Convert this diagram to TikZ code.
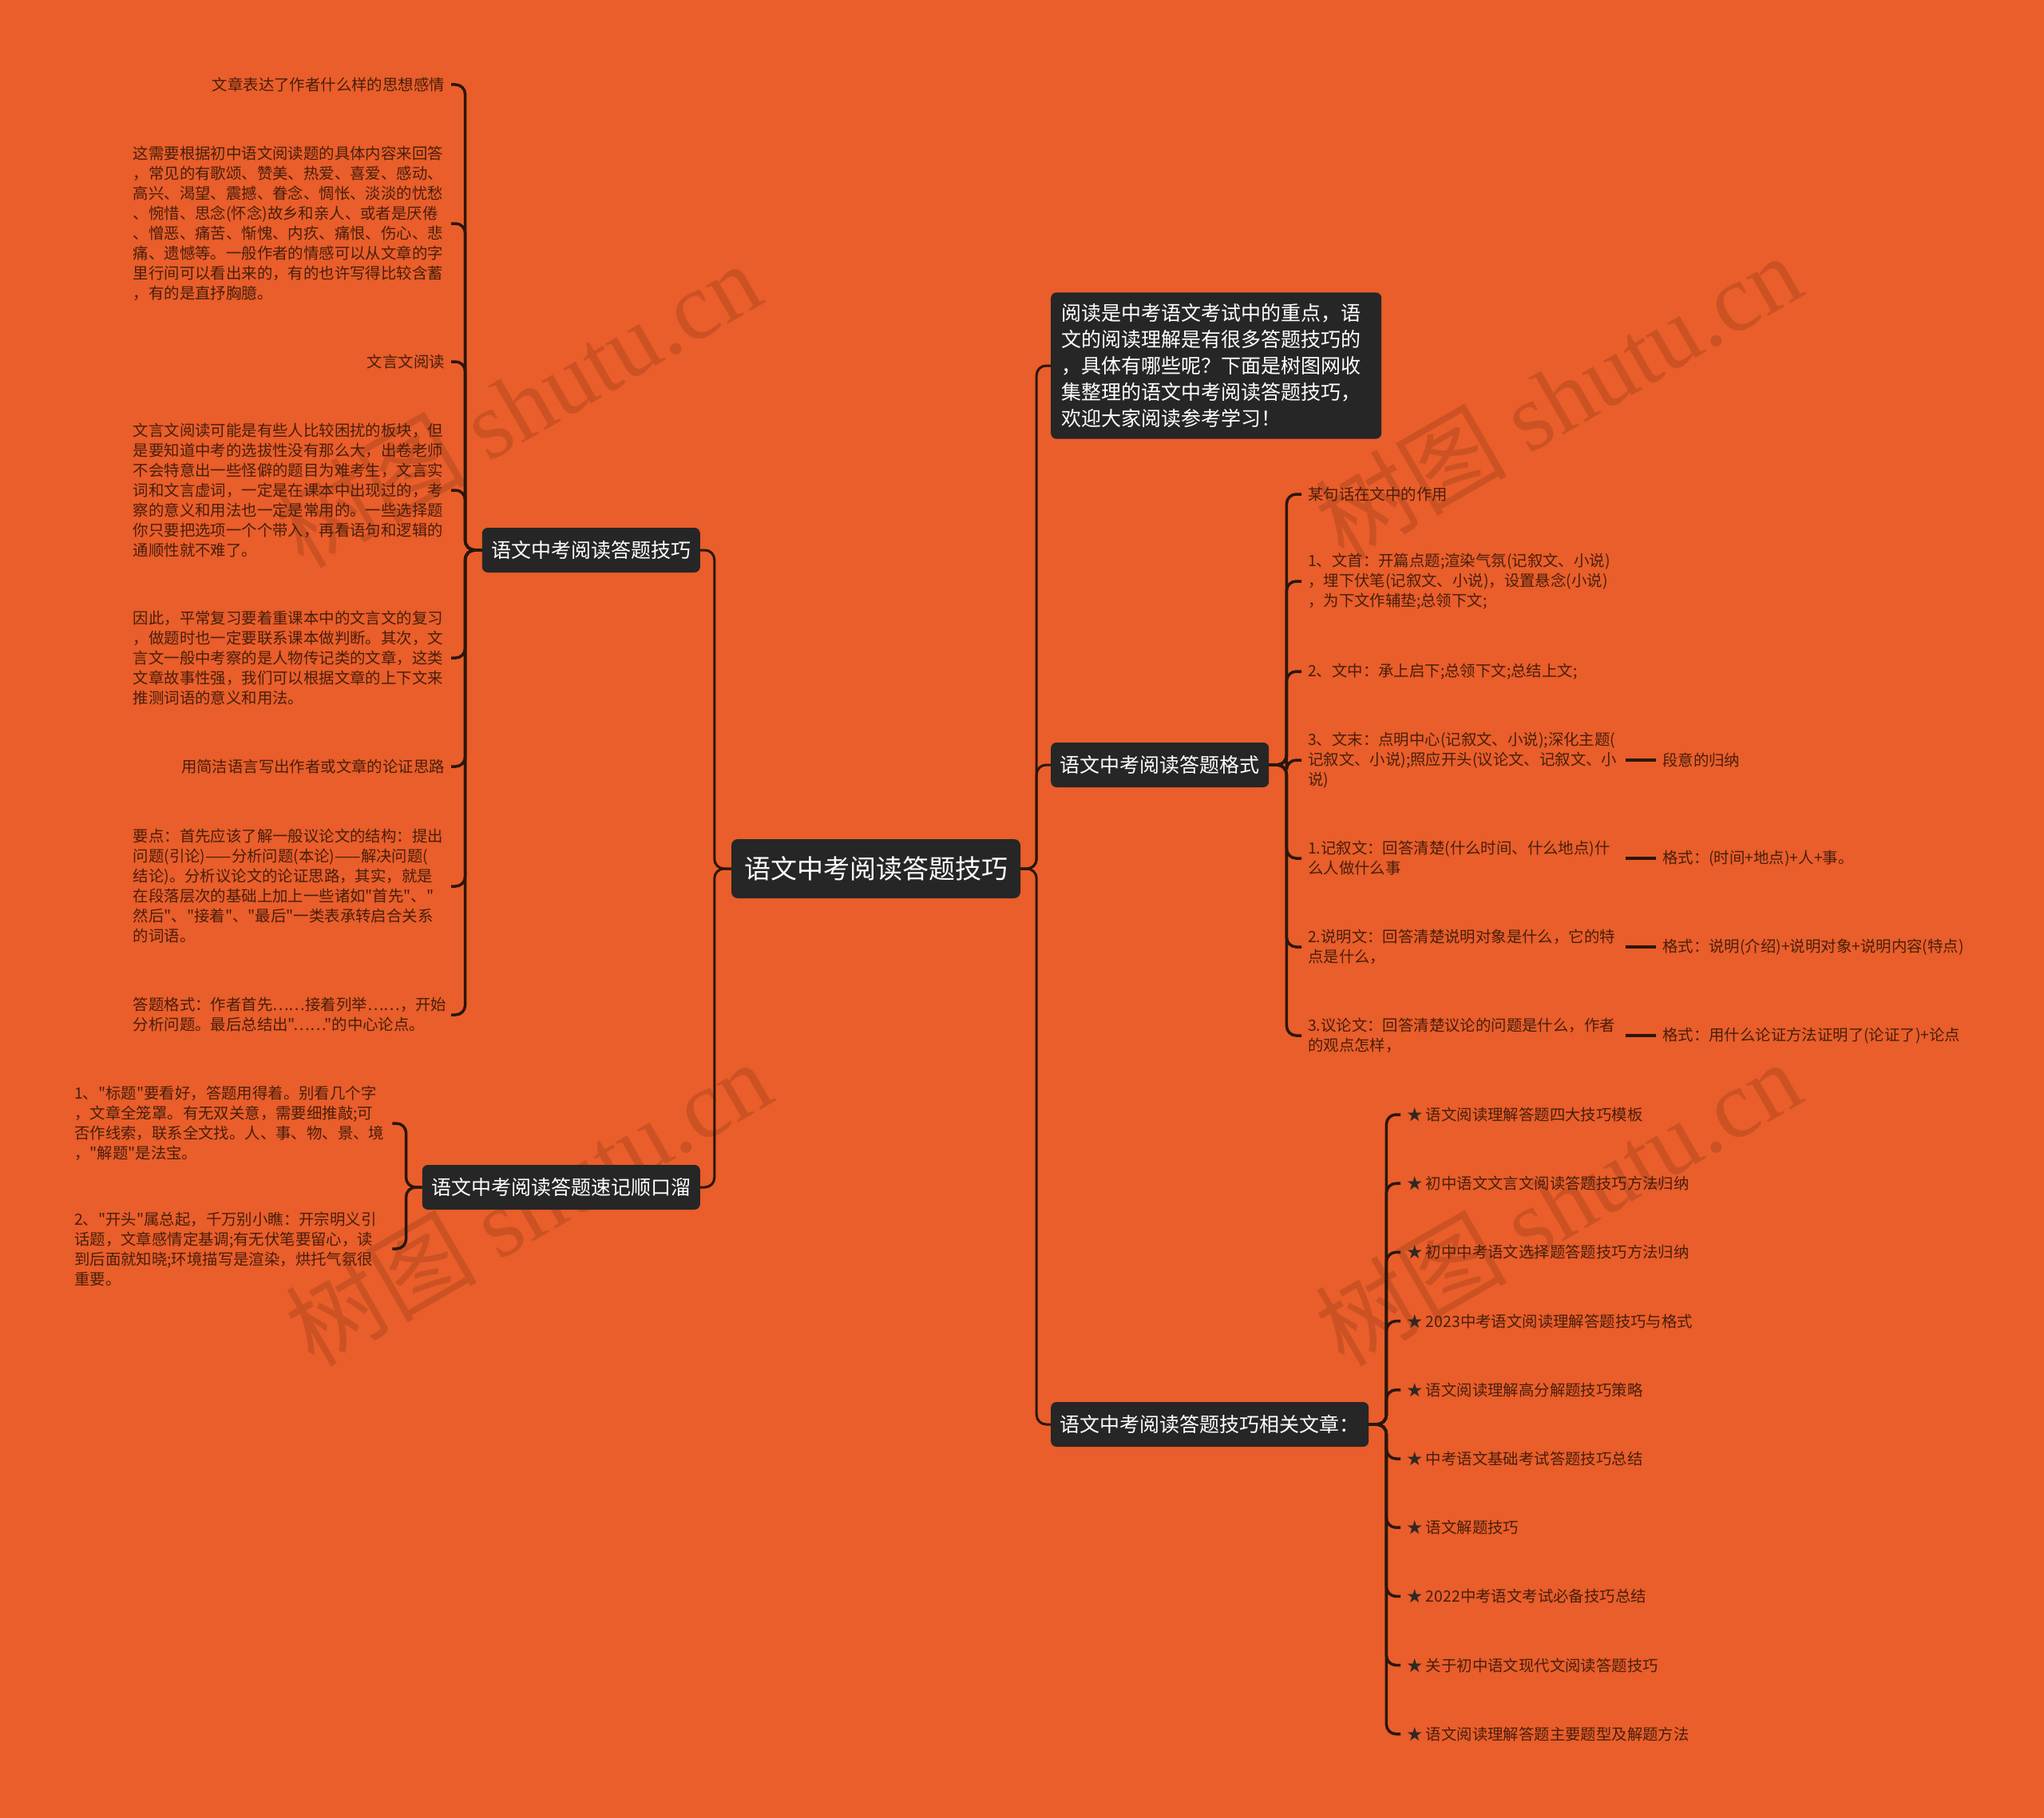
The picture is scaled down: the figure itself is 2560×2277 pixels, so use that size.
\documentclass[tikz,border=0pt]{standalone}
\usepackage{fontspec}
\setmainfont{Noto Sans CJK SC}[Ligatures=TeXOff]
\newfontfamily\wmlatin{Liberation Serif}
\definecolor{bgorange}{RGB}{233,94,42}
\definecolor{boxfill}{RGB}{38,38,38}
\definecolor{linkcol}{RGB}{42,22,12}
\definecolor{leaftext}{RGB}{72,30,12}
\definecolor{stargray}{RGB}{50,40,35}
\tikzset{
  rootbox/.style={fill=boxfill, text=white, rounded corners=8pt, inner xsep=16pt, minimum height=74pt, font=\fontsize{33}{40}\selectfont},
  branchbox/.style={fill=boxfill, text=white, rounded corners=7pt, inner xsep=11.5pt, minimum height=56pt, font=\fontsize{25}{33}\selectfont},
  leaf/.style={text=leaftext, inner sep=8pt, font=\fontsize{19.4}{25}\selectfont},
  para/.style={leaf, text width=390pt, align=left},
  link/.style={draw=linkcol, line width=3pt, rounded corners=12pt},
  twig/.style={draw=linkcol, line width=3.5pt, rounded corners=12pt},
  watermark/.style={rotate=30, text=black, opacity=0.12, font=\fontsize{120}{130}\selectfont},
}

\begin{document}
\begin{tikzpicture}[x=1pt, y=-1pt]
  % Background
  \useasboundingbox (0,0) rectangle (2560,2277);
  \fill[bgorange] (0,0) rectangle (2560,2277);

  % Watermarks
  \node[watermark] (wmA) at (648,506) {树图 {\wmlatin shutu.cn}};
  \node[watermark] (wmB) at (1951,496) {树图 {\wmlatin shutu.cn}};
  \node[watermark] (wmC) at (661,1506) {树图 {\wmlatin shutu.cn}};
  \node[watermark] (wmD) at (1951,1506) {树图 {\wmlatin shutu.cn}};

  % Root and main branches
  \node[rootbox] (root) at (1097,1088) {语文中考阅读答题技巧};
  \node[branchbox, anchor=east] (skill) at (877,689) {语文中考阅读答题技巧};
  \node[branchbox, anchor=east] (rhyme) at (877,1487) {语文中考阅读答题速记顺口溜};
  \node[branchbox, anchor=west, text width=388pt, align=left, inner xsep=13pt, inner ysep=14pt] (intro) at (1316,458)
    {阅读是中考语文考试中的重点，语\\文的阅读理解是有很多答题技巧的\\，具体有哪些呢？下面是树图网收\\集整理的语文中考阅读答题技巧，\\欢迎大家阅读参考学习！};
  \node[branchbox, anchor=west] (fmt) at (1316,958) {语文中考阅读答题格式};
  \node[branchbox, anchor=west] (rel) at (1316,1784) {语文中考阅读答题技巧相关文章：};

  \draw[link] (root.east) -- ++(20,0) |- (intro.west);
  \draw[link] (root.east) -- ++(20,0) |- (fmt.west);
  \draw[link] (root.east) -- ++(20,0) |- (rel.west);
  \draw[link] (root.west) -- ++(-21,0) |- (skill.east);
  \draw[link] (root.west) -- ++(-21,0) |- (rhyme.east);

  % Left: skills
  \node[leaf, anchor=east] (s1) at (565,106) {文章表达了作者什么样的思想感情};
  \node[para, anchor=east] (s2) at (565,280) {这需要根据初中语文阅读题的具体内容来回答\\，常见的有歌颂、赞美、热爱、喜爱、感动、\\高兴、渴望、震撼、眷念、惆怅、淡淡的忧愁\\、惋惜、思念(怀念)故乡和亲人、或者是厌倦\\、憎恶、痛苦、惭愧、内疚、痛恨、伤心、悲\\痛、遗憾等。一般作者的情感可以从文章的字\\里行间可以看出来的，有的也许写得比较含蓄\\，有的是直抒胸臆。};
  \node[leaf, anchor=east] (s3) at (565,453) {文言文阅读};
  \node[para, anchor=east] (s4) at (565,614) {文言文阅读可能是有些人比较困扰的板块，但\\是要知道中考的选拔性没有那么大，出卷老师\\不会特意出一些怪僻的题目为难考生，文言实\\词和文言虚词，一定是在课本中出现过的，考\\察的意义和用法也一定是常用的。一些选择题\\你只要把选项一个个带入，再看语句和逻辑的\\通顺性就不难了。};
  \node[para, anchor=east] (s5) at (565,824) {因此，平常复习要着重课本中的文言文的复习\\，做题时也一定要联系课本做判断。其次，文\\言文一般中考察的是人物传记类的文章，这类\\文章故事性强，我们可以根据文章的上下文来\\推测词语的意义和用法。};
  \node[leaf, anchor=east] (s6) at (565,960) {用简洁语言写出作者或文章的论证思路};
  \node[para, anchor=east] (s7) at (565,1110) {要点：首先应该了解一般议论文的结构：提出\\问题(引论)——分析问题(本论)——解决问题(\\结论)。分析议论文的论证思路，其实，就是\\在段落层次的基础上加上一些诸如"首先"、"\\然后"、"接着"、"最后"一类表承转启合关系\\的词语。};
  \node[para, anchor=east] (s8) at (565,1271) {答题格式：作者首先……接着列举……，开始\\分析问题。最后总结出"……"的中心论点。};
  \foreach \i in {1,...,8}
    \draw[twig] (skill.west) -- ++(-21,0) |- (s\i.east);

  % Left: rhyme
  \node[para, anchor=west] (r1) at (85,1407) {1、"标题"要看好，答题用得着。别看几个字\\，文章全笼罩。有无双关意，需要细推敲;可\\否作线索，联系全文找。人、事、物、景、境\\，"解题"是法宝。};
  \node[para, anchor=west] (r2) at (85,1564) {2、"开头"属总起，千万别小瞧：开宗明义引\\话题，文章感情定基调;有无伏笔要留心，读\\到后面就知晓;环境描写是渲染，烘托气氛很\\重要。};
  \foreach \i in {1,2}
    \draw[twig] (rhyme.west) -- ++(-20,0) |- (r\i.east);

  % Right: format
  \node[para, anchor=west] (f1) at (1630,619) {某句话在文中的作用};
  \node[para, anchor=west] (f2) at (1630,728) {1、文首：开篇点题;渲染气氛(记叙文、小说)\\，埋下伏笔(记叙文、小说)，设置悬念(小说)\\，为下文作辅垫;总领下文;};
  \node[para, anchor=west] (f3) at (1630,841) {2、文中：承上启下;总领下文;总结上文;};
  \node[para, anchor=west] (f4) at (1630,952) {3、文末：点明中心(记叙文、小说);深化主题(\\记叙文、小说);照应开头(议论文、记叙文、小\\说)};
  \node[para, anchor=west] (f5) at (1630,1075) {1.记叙文：回答清楚(什么时间、什么地点)什\\么人做什么事};
  \node[para, anchor=west] (f6) at (1630,1186) {2.说明文：回答清楚说明对象是什么，它的特\\点是什么，};
  \node[para, anchor=west] (f7) at (1630,1297) {3.议论文：回答清楚议论的问题是什么，作者\\的观点怎样，};
  \foreach \i in {1,...,7}
    \draw[twig] (fmt.east) -- ++(22,0) |- (f\i.west);

  \node[leaf, anchor=west] (g4) at (2074,952) {段意的归纳};
  \node[leaf, anchor=west] (g5) at (2074,1075) {格式：(时间+地点)+人+事。};
  \node[leaf, anchor=west] (g6) at (2074,1186) {格式：说明(介绍)+说明对象+说明内容(特点)};
  \node[leaf, anchor=west] (g7) at (2074,1297) {格式：用什么论证方法证明了(论证了)+论点};
  \foreach \i in {4,...,7}
    \draw[twig] (f\i.east) -- (g\i.west);

  % Right: related articles
  \foreach \t [count=\i] in {语文阅读理解答题四大技巧模板, 初中语文文言文阅读答题技巧方法归纳, 初中中考语文选择题答题技巧方法归纳, 2023中考语文阅读理解答题技巧与格式, 语文阅读理解高分解题技巧策略, 中考语文基础考试答题技巧总结, 语文解题技巧, 2022中考语文考试必备技巧总结, 关于初中语文现代文阅读答题技巧, 语文阅读理解答题主要题型及解题方法}{
    \node[leaf, anchor=west] (a\i) at ({1754},{1396+86.2*(\i-1)}) {\textcolor{stargray}{★} \t};
    \draw[twig] (rel.east) -- ++(22,0) |- (a\i.west);
  }
\end{tikzpicture}
\end{document}
